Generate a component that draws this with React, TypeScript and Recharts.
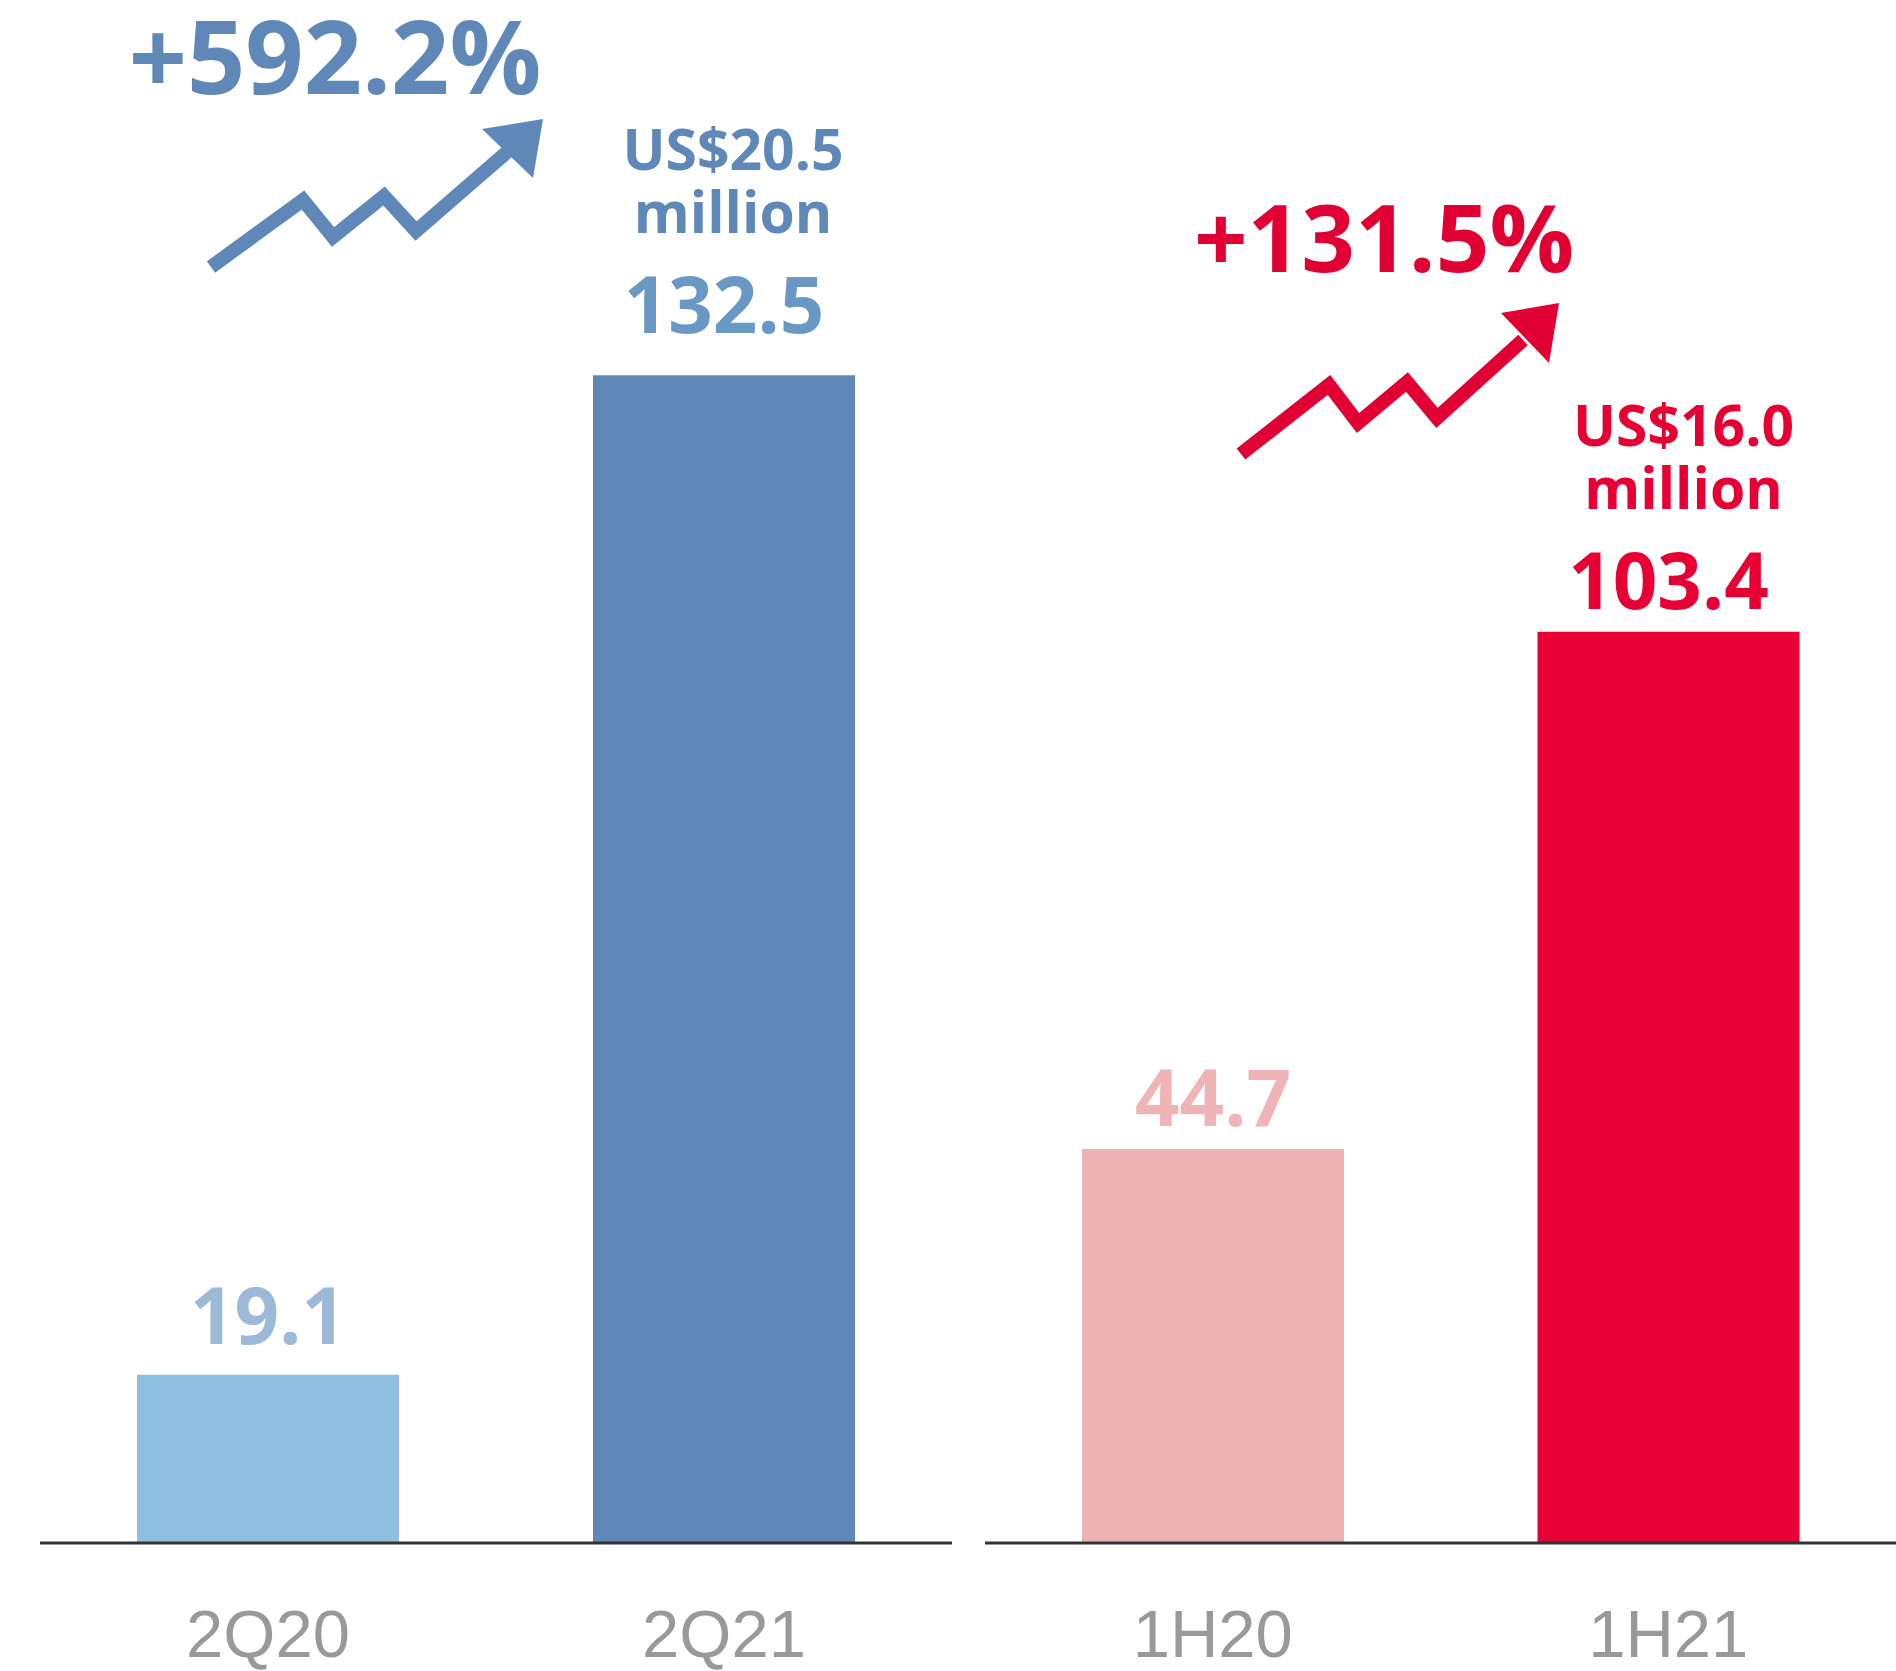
import React from "react";
import { BarChart, Bar, XAxis, YAxis, Cell, LabelList } from "recharts";

// quarterly panel
const quarterLabels = ["2Q20", "2Q21"];
const quarterValues = [19.1, 132.5];
const quarterNote = ["US$20.5", "million"];
const quarterGrowth = "+592.2%";

// half-year panel
const halfLabels = ["1H20", "1H21"];
const halfValues = [44.7, 103.4];
const halfNote = ["US$16.0", "million"];
const halfGrowth = "+131.5%";

const yMax = 150;

const BLUE = "#5f88b8";
const RED = "#e60033";
const NUM_FONT = "'Open Sans', 'Noto Sans', sans-serif";
const TICK_FONT = "'Liberation Sans', Arial, sans-serif";

type PanelProps = {
  labels: string[];
  values: number[];
  barColors: string[];
  labelColors: string[];
  lifts: number[];
  note: string[];
  noteColor: string;
  noteDx: number;
  left: number;
  width: number;
  marginLeft: number;
};

const renderTick = (props: any) => {
  const { x, y, payload } = props;
  return (
    <text
      x={x}
      y={y + 114}
      textAnchor="middle"
      fontSize={67}
      fill="#999999"
      fontFamily={TICK_FONT}
    >
      {payload.value}
    </text>
  );
};

const Panel = ({
  labels,
  values,
  barColors,
  labelColors,
  lifts,
  note,
  noteColor,
  noteDx,
  left,
  width,
  marginLeft,
}: PanelProps) => {
  const data = labels.map((name, i) => ({ name, value: values[i] }));
  const last = data.length - 1;

  const renderLabel = (props: any) => {
    const { x, y, width: w, value, index } = props;
    const cx = x + w / 2;
    const base = y - lifts[index];
    return (
      <g key={`lbl-${index}`}>
        {index === last && (
          <text
            textAnchor="middle"
            fontSize={57}
            fontWeight={700}
            fill={noteColor}
            fontFamily={NUM_FONT}
          >
            <tspan x={cx + noteDx} y={base - 163}>
              {note[0]}
            </tspan>
            <tspan x={cx + noteDx} y={base - 100}>
              {note[1]}
            </tspan>
          </text>
        )}
        <text
          x={cx}
          y={base}
          textAnchor="middle"
          fontSize={78}
          fontWeight={700}
          fill={labelColors[index]}
          fontFamily={NUM_FONT}
        >
          {value}
        </text>
      </g>
    );
  };

  return (
    <div style={{ position: "absolute", left, top: 0, width, height: 1671 }}>
      <BarChart
        width={width}
        height={1671}
        data={data}
        margin={{ top: 221, right: 0, left: marginLeft, bottom: 0 }}
      >
        <XAxis
          dataKey="name"
          height={128}
          interval={0}
          axisLine={{ stroke: "#333333", strokeWidth: 3 }}
          tickLine={false}
          tickSize={0}
          tickMargin={0}
          tick={renderTick}
        />
        <YAxis hide domain={[0, yMax]} />
        <Bar dataKey="value" barSize={262} isAnimationActive={false}>
          {data.map((d, i) => (
            <Cell key={d.name} fill={barColors[i]} />
          ))}
          <LabelList dataKey="value" content={renderLabel} />
        </Bar>
      </BarChart>
    </div>
  );
};

const GrowthArrows = () => (
  <svg
    width={1896}
    height={1671}
    style={{ position: "absolute", left: 0, top: 0, pointerEvents: "none" }}
  >
    <text
      x={335}
      y={94}
      textAnchor="middle"
      fontSize={102}
      fontWeight={700}
      fill={BLUE}
      fontFamily={NUM_FONT}
    >
      {quarterGrowth}
    </text>
    <polyline
      points="211,267 303,200 333,237 384,196 416,231 507,152"
      fill="none"
      stroke={BLUE}
      strokeWidth={14}
      strokeLinejoin="miter"
    />
    <polygon points="482,129 543,119 533,178" fill={BLUE} />

    <text
      x={1384}
      y={272}
      textAnchor="middle"
      fontSize={94}
      fontWeight={700}
      fill="#e00034"
      fontFamily={NUM_FONT}
    >
      {halfGrowth}
    </text>
    <polyline
      points="1241,454 1329,385 1358,423 1407,382 1437,418 1523,340"
      fill="none"
      stroke="#e00034"
      strokeWidth={14}
      strokeLinejoin="miter"
    />
    <polygon points="1501,313 1559,303 1549,363" fill="#e00034" />
  </svg>
);

const App = () => {
  return (
    <div
      style={{
        position: "absolute",
        left: 0,
        top: 0,
        width: 1896,
        height: 1671,
        background: "#ffffff",
        fontFamily: NUM_FONT,
      }}
    >
      <Panel
        labels={quarterLabels}
        values={quarterValues}
        barColors={["#8ebee0", BLUE]}
        labelColors={["#9db9d8", "#6a98c4"]}
        lifts={[31, 42]}
        note={quarterNote}
        noteColor={BLUE}
        noteDx={9}
        left={0}
        width={952}
        marginLeft={40}
      />
      <Panel
        labels={halfLabels}
        values={halfValues}
        barColors={["#edb3b5", RED]}
        labelColors={["#eeb4b6", RED]}
        lifts={[23, 23]}
        note={halfNote}
        noteColor={RED}
        noteDx={15}
        left={960}
        width={936}
        marginLeft={25}
      />
      <GrowthArrows />
    </div>
  );
};

export default App;
